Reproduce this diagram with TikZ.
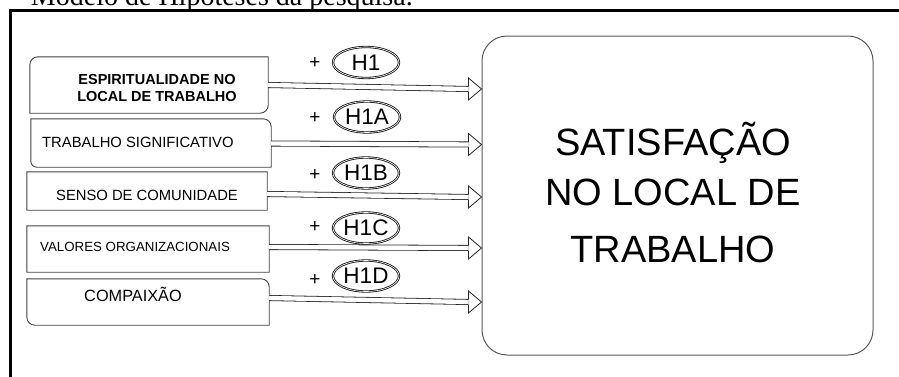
\documentclass[tikz,border=0pt]{standalone}
\usepackage{fontspec}
\setmainfont{Liberation Sans}
\newfontfamily\capfont{Liberation Serif}
\usetikzlibrary{calc,shapes.geometric}
\tikzset{
  boxline/.style={draw=black!75, line width=0.9pt},
  shaft/.style={draw=black!85, double=white, double distance=4.4pt, line width=0.8pt},
  headline/.style={draw=black!85, line width=0.8pt, line join=miter},
  hyp/.style={ellipse, draw=black!90, double=white, double distance=0.6pt, line width=0.85pt,
    minimum width=66pt, minimum height=31pt, inner sep=0pt, font=\fontsize{22.5}{22.5}\selectfont},
  plus/.style={inner sep=0pt, font=\fontsize{19}{19}\selectfont},
  lbl/.style={inner sep=0pt},
  bigtxt/.style={inner sep=0pt, anchor=base, font=\fontsize{38}{38}\selectfont},
}
\newcommand\cbox[5]{%
  \draw[boxline] let \p1=(#1.north west), \p2=(#1.south east) in
    (\x1+#2pt,\y1) -- (\x2-#3pt,\y1) arc[start angle=90,end angle=0,radius=#3pt]
    -- (\x2,\y2+#4pt) arc[start angle=0,end angle=-90,radius=#4pt]
    -- (\x1+#5pt,\y2) arc[start angle=270,end angle=180,radius=#5pt]
    -- (\x1,\y1-#2pt) arc[start angle=180,end angle=90,radius=#2pt] -- cycle;}
\newcommand\hollowarrow[2]{%
  \draw[shaft] (#1) -- ($(#2)+(-13,0)$);
  \draw[headline] ($(#2)+(-13,2.6)$) -- ($(#2)+(-13,11)$) -- (#2) -- ($(#2)+(-13,-11)$) -- ($(#2)+(-13,-2.6)$);}
\begin{document}
\begin{tikzpicture}[x=1pt,y=1pt]
\useasboundingbox (0,0) rectangle (899,376);
\begin{scope}
  \clip (0,0) rectangle (899,376);
  \node[inner sep=0pt, anchor=base east, font=\capfont\fontsize{28}{28}\selectfont] (cap) at (413,370.5) {Modelo de Hipóteses da pesquisa.};
  \draw[line width=2.5pt] (10.5,-3) -- (10.5,365.5) -- (903,365.5);
\end{scope}

% big box
\node[draw=black!65, line width=1pt, rounded corners=25pt, minimum width=391pt, minimum height=319pt] (big) at (677.5,180.5) {};
\node[bigtxt] (st1) at (673,221) {SATISFAÇÃO};
\node[bigtxt] (st2) at (673,171) {NO LOCAL DE};
\node[bigtxt] (st3) at (673,114) {TRABALHO};

% left boxes
\node[minimum width=238pt, minimum height=56pt, inner sep=0pt] (b1) at (149,291) {};
\node[minimum width=240pt, minimum height=48pt, inner sep=0pt] (b2) at (151,233) {};
\node[minimum width=240pt, minimum height=38pt, inner sep=0pt] (b3) at (147,185) {};
\node[minimum width=242pt, minimum height=46pt, inner sep=0pt] (b4) at (148,127) {};
\node[minimum width=242pt, minimum height=46pt, inner sep=0pt] (b5) at (148,74) {};
\cbox{b1}{8}{0.01}{8}{0.01}
\cbox{b2}{0.01}{8}{0.01}{6}
\cbox{b3}{0.01}{0.01}{0.01}{0.01}
\cbox{b4}{0.01}{0.01}{0.01}{0.01}
\cbox{b5}{0.01}{8}{0.01}{8}

\node[lbl, align=center, font=\bfseries\fontsize{14.5}{17}\selectfont] (l1) at (157,288) {ESPIRITUALIDADE NO\\LOCAL DE TRABALHO};
\node[lbl, anchor=west, font=\fontsize{14.8}{17}\selectfont] (l2) at (42,234) {TRABALHO SIGNIFICATIVO};
\node[lbl, font=\fontsize{14.8}{17}\selectfont] (l3) at (147,181) {SENSO DE COMUNIDADE};
\node[lbl, anchor=west, font=\fontsize{13.3}{16}\selectfont] (l4) at (40,129) {VALORES ORGANIZACIONAIS};
\node[lbl, font=\fontsize{16.3}{18}\selectfont] (l5) at (133,82) {COMPAIXÃO};

% hypotheses labels
\node[plus] (p1) at (315,313) {+};
\node[plus] (p2) at (315,258) {+};
\node[plus] (p3) at (315,201) {+};
\node[plus] (p4) at (315,149) {+};
\node[plus] (p5) at (315,96) {+};
\node[hyp] (h1) at (366,313.5) {H1};
\node[hyp] (h2) at (367,259) {H1A};
\node[hyp] (h3) at (366,203) {H1B};
\node[hyp] (h4) at (366,148) {H1C};
\node[hyp] (h5) at (366,100) {H1D};

% arrows
\coordinate (s1) at (b1.east);
\coordinate (s2) at ($(b2.east)+(0,-0.5)$);
\coordinate (s3) at ($(b3.east)+(0,-3)$);
\coordinate (s4) at ($(b4.east)+(0,2)$);
\coordinate (s5) at ($(b5.east)+(0,4)$);
\coordinate (t1) at (big.west |- 0,287);
\coordinate (t2) at (big.west |- 0,231.5);
\coordinate (t3) at (big.west |- 0,179);
\coordinate (t4) at (big.west |- 0,128);
\coordinate (t5) at (big.west |- 0,74);
\hollowarrow{s1}{t1}
\hollowarrow{s2}{t2}
\hollowarrow{s3}{t3}
\hollowarrow{s4}{t4}
\hollowarrow{s5}{t5}
\end{tikzpicture}
\end{document}
